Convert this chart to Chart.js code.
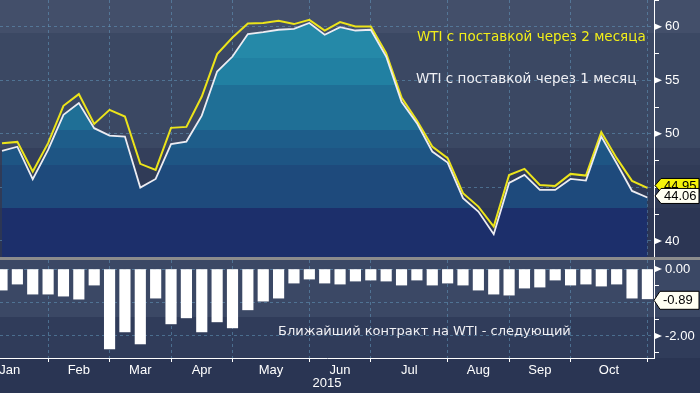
<!DOCTYPE html>
<html lang="ru">
<head>
<meta charset="UTF-8">
<title>WTI: ближайший и следующий контракт</title>
<script src="https://cdn.jsdelivr.net/npm/chart.js"></script>
<style>
  html, body { margin: 0; padding: 0; }
  #wrap {
    position: relative;
    width: 700px;
    height: 393px;
    overflow: hidden;
    background: linear-gradient(to bottom,
      #434f6a 0px, #434f6a 33px,
      #3b4863 33px, #3b4863 148px,
      #343f5b 148px, #343f5b 165px,
      #303b57 165px, #303b57 208px,
      #2c3654 208px, #2c3654 257px,
      #8c8c8c 257px, #8c8c8c 260px,
      #3b4865 260px, #3b4865 317px,
      #303c5a 317px, #303c5a 358px,
      #2a3553 358px, #2a3553 393px);
  }
  canvas { position: absolute; left: 0; }
  #priceChart { top: 0; }
  #spreadChart { top: 260px; }
</style>
</head>
<body>
<div id="wrap">
  <canvas id="priceChart" width="700" height="257"></canvas>
  <canvas id="spreadChart" width="700" height="133"></canvas>
</div>

<script>
  // weekly closes (Fridays), 2015
  const weeks = [
    '2015-01-16', '2015-01-23', '2015-01-30',
    '2015-02-06', '2015-02-13', '2015-02-20', '2015-02-27',
    '2015-03-06', '2015-03-13', '2015-03-20', '2015-03-27',
    '2015-04-03', '2015-04-10', '2015-04-17', '2015-04-24',
    '2015-05-01', '2015-05-08', '2015-05-15', '2015-05-22', '2015-05-29',
    '2015-06-05', '2015-06-12', '2015-06-19', '2015-06-26',
    '2015-07-03', '2015-07-10', '2015-07-17', '2015-07-24', '2015-07-31',
    '2015-08-07', '2015-08-14', '2015-08-21', '2015-08-28',
    '2015-09-04', '2015-09-11', '2015-09-18', '2015-09-25',
    '2015-10-02', '2015-10-09', '2015-10-16', '2015-10-23', '2015-10-30',
    '2015-11-06'
  ];
  const monthNames = ['Jan', 'Feb', 'Mar', 'Apr', 'May', 'Jun', 'Jul', 'Aug', 'Sep', 'Oct', 'Nov', 'Dec'];

  // WTI, front month (white) and second month (yellow), $/bbl
  const wti1m = [
    48.40, 48.80, 45.77, 48.50, 51.78, 52.87, 50.53, 49.84, 49.75, 44.98,
    45.79, 49.04, 49.28, 51.70, 55.82, 57.22, 59.32, 59.50, 59.72, 59.81,
    60.35, 59.25, 59.97, 59.65, 59.72, 57.22, 53.00, 51.00, 48.35, 47.32,
    43.99, 42.74, 40.63, 45.42, 46.17, 44.77, 44.77, 45.79, 45.64, 49.75,
    47.26, 44.67, 44.06
  ];
  const wti2m = [
    49.13, 49.25, 46.48, 49.13, 52.62, 53.71, 50.93, 52.24, 51.62, 47.20,
    46.64, 50.56, 50.65, 53.49, 57.45, 59.00, 60.30, 60.35, 60.56, 60.25,
    60.65, 59.65, 60.44, 60.03, 60.03, 57.54, 53.40, 51.24, 48.81, 47.73,
    44.46, 43.21, 41.34, 46.15, 46.73, 45.23, 45.14, 46.26, 46.10, 50.16,
    47.73, 45.61, 44.95
  ];
  // front month minus next month
  const spread = [
    -0.63, -0.45, -0.75, -0.75, -0.81, -0.90, -0.48, -2.39, -1.88, -2.24,
    -0.87, -1.64, -1.46, -1.88, -1.58, -1.76, -1.22, -0.96, -0.87, -0.42,
    -0.30, -0.42, -0.45, -0.36, -0.33, -0.36, -0.48, -0.33, -0.48, -0.42,
    -0.48, -0.63, -0.75, -0.78, -0.57, -0.54, -0.33, -0.48, -0.45, -0.51,
    -0.45, -0.87, -0.89
  ];

  const label1m = 'WTI с поставкой через 1 месяц';
  const label2m = 'WTI с поставкой через 2 месяца';
  const labelSpread = 'Ближайший контракт на WTI - следующий';

  const FONT = '"Liberation Sans", Arial, sans-serif';
  const TEXT_FONT = '"DejaVu Sans", sans-serif';
  const gridColor = 'rgba(98,152,188,0.55)';
  Chart.defaults.font.family = FONT;
  Chart.defaults.font.size = 13;
  Chart.defaults.color = '#ffffff';

  // index of the first week of every month (first month extrapolated back)
  const monthStarts = [];
  weeks.forEach((d, i) => {
    const m = +d.slice(5, 7) - 1;
    if (i === 0) monthStarts.push({ idx: -Math.floor((+d.slice(8, 10) - 1) / 7), m });
    else if (d.slice(5, 7) !== weeks[i - 1].slice(5, 7)) monthStarts.push({ idx: i, m });
  });
  const monthMids = monthStarts.slice(0, -1).map((s, k) => ({
    value: (s.idx + monthStarts[k + 1].idx) / 2,
    label: monthNames[s.m]
  }));

  const X_MIN = -0.13;
  const X_MAX = weeks.length - 1 + 0.43;
  const isStart = v => monthStarts.some(s => s.idx === v);

  function noPadding(s) {
    s.paddingTop = 0;
    s.paddingBottom = 0;
    s.paddingLeft = 0;
    s.paddingRight = 0;
  }

  function xAxis(withLabels) {
    return {
      type: 'linear',
      min: X_MIN,
      max: X_MAX,
      offset: false,
      afterBuildTicks: s => {
        const t = monthStarts.filter(m => m.idx >= X_MIN && m.idx <= X_MAX).map(m => ({ value: m.idx }));
        if (withLabels) monthMids.forEach(m => t.push({ value: m.value }));
        s.ticks = t.sort((a, b) => a.value - b.value);
      },
      afterFit: s => {
        s.height = withLabels ? 35 : 0;
        noPadding(s);
      },
      grid: {
        offset: false,
        color: c => isStart(c.tick.value) ? gridColor : 'transparent',
        tickColor: c => isStart(c.tick.value) ? '#ffffff' : 'transparent',
        drawTicks: withLabels,
        tickLength: 4
      },
      border: { display: withLabels, color: '#ffffff', dash: [3, 3] },
      ticks: {
        display: withLabels,
        autoSkip: false,
        maxRotation: 0,
        padding: 1,
        callback: v => {
          const m = monthMids.find(l => l.value === v);
          return m ? m.label : '';
        }
      },
      title: { display: withLabels, text: '2015', padding: { top: 0, bottom: 2 } }
    };
  }

  function yAxis(min, max, step, major, lastValues, hideWithin, fmt) {
    const isMajor = v => Math.abs(v / major - Math.round(v / major)) < 1e-6;
    return {
      position: 'right',
      min, max,
      afterBuildTicks: s => {
        const t = [];
        for (let k = Math.ceil(min / step - 1e-9); k * step <= max + 1e-9; k++) {
          t.push({ value: +(k * step).toFixed(4) });
        }
        s.ticks = t;
      },
      afterFit: s => {
        s.width = 46;
        noPadding(s);
      },
      ticks: {
        padding: 6,
        callback: v => {
          if (!isMajor(v)) return '';
          if (lastValues.some(l => Math.abs(v - l) < hideWithin)) return '';
          return fmt(v);
        }
      },
      grid: {
        color: c => isMajor(c.tick.value) ? gridColor : 'transparent',
        tickColor: '#ffffff',
        tickLength: 5
      },
      border: { color: '#ffffff', dash: [3, 3] }
    };
  }

  // little arrow heads on labelled ticks of the right axis
  function drawArrowTicks(chart) {
    const s = chart.scales.y;
    const ctx = chart.ctx;
    ctx.save();
    ctx.fillStyle = '#ffffff';
    s.ticks.forEach(t => {
      if (!t.label) return;
      const y = s.getPixelForValue(t.value);
      ctx.beginPath();
      ctx.moveTo(s.left, y - 3.5);
      ctx.lineTo(s.left + 8, y);
      ctx.lineTo(s.left, y + 3.5);
      ctx.closePath();
      ctx.fill();
    });
    ctx.restore();
  }

  function valueBox(ctx, x, y, h, text, fill) {
    ctx.save();
    ctx.beginPath();
    ctx.moveTo(x, y);
    ctx.lineTo(x + 6, y - h / 2);
    ctx.lineTo(699, y - h / 2);
    ctx.lineTo(699, y + h / 2);
    ctx.lineTo(x + 6, y + h / 2);
    ctx.closePath();
    ctx.fillStyle = fill;
    ctx.fill();
    ctx.strokeStyle = '#000000';
    ctx.lineWidth = 1;
    ctx.stroke();
    ctx.fillStyle = '#000000';
    ctx.font = '13px ' + FONT;
    ctx.textAlign = 'left';
    ctx.textBaseline = 'middle';
    ctx.fillText(text, x + 9, y + 0.5);
    ctx.restore();
  }

  // Bloomberg style banded area fill
  function areaFill(c) {
    const { ctx, chartArea } = c.chart;
    if (!chartArea) return null;
    const h = chartArea.bottom - chartArea.top;
    const bands = [
      [0, '#2589a8'], [58, '#2180a2'], [85, '#1f6f96'], [130, '#1e5d8a'],
      [148, '#1e5584'], [165, '#1e4a7c'], [208, '#1c2f6b']
    ];
    const g = ctx.createLinearGradient(0, chartArea.top, 0, chartArea.bottom);
    bands.forEach(([y, col], k) => {
      const y2 = k + 1 < bands.length ? bands[k + 1][0] : h;
      g.addColorStop(Math.min(y / h, 1), col);
      g.addColorStop(Math.min(y2 / h, 1), col);
    });
    return g;
  }

  const pricePlugin = {
    id: 'priceExtras',
    afterDraw(chart) {
      const ctx = chart.ctx;
      const y = chart.scales.y;
      drawArrowTicks(chart);

      ctx.save();
      ctx.font = '13.5px ' + TEXT_FONT;
      ctx.textAlign = 'left';
      ctx.textBaseline = 'middle';
      ctx.fillStyle = '#f2ee1a';
      ctx.fillText(label2m, 417, 37);
      ctx.fillStyle = '#f0f0f4';
      ctx.fillText(label1m, 416, 79);
      ctx.restore();

      const last1 = wti1m[wti1m.length - 1];
      const last2 = wti2m[wti2m.length - 1];
      const yW = y.getPixelForValue(last1) - 1.5;
      const yY = Math.min(y.getPixelForValue(last2), yW - 10.5);
      valueBox(ctx, y.left + 1, yY, 14, last2.toFixed(2), '#f5f20a');
      valueBox(ctx, y.left + 1, yW, 15, last1.toFixed(2), '#fffff2');
    }
  };

  const spreadPlugin = {
    id: 'spreadExtras',
    afterDraw(chart) {
      const ctx = chart.ctx;
      const y = chart.scales.y;
      drawArrowTicks(chart);

      ctx.save();
      ctx.font = '13px ' + TEXT_FONT;
      ctx.textAlign = 'left';
      ctx.textBaseline = 'middle';
      ctx.fillStyle = '#f0f0f4';
      ctx.fillText(labelSpread, 278, 72);
      ctx.restore();

      const last = spread[spread.length - 1];
      valueBox(ctx, y.left, y.getPixelForValue(last) + 1.5, 18, last.toFixed(2), '#fffff2');
    }
  };

  new Chart(document.getElementById('priceChart'), {
    type: 'line',
    data: {
      datasets: [
        {
          label: label1m,
          data: wti1m.map((v, i) => ({ x: i, y: v })),
          borderColor: '#ececf2',
          borderWidth: 1.8,
          pointRadius: 0,
          tension: 0,
          fill: 'start',
          backgroundColor: areaFill
        },
        {
          label: label2m,
          data: wti2m.map((v, i) => ({ x: i, y: v })),
          borderColor: '#ece41a',
          borderWidth: 2,
          pointRadius: 0,
          tension: 0,
          fill: false
        }
      ]
    },
    options: {
      responsive: false,
      animation: false,
      devicePixelRatio: 1,
      layout: { padding: 0, autoPadding: false },
      plugins: { legend: { display: false }, tooltip: { enabled: false } },
      scales: {
        x: xAxis(false),
        y: yAxis(38.5, 62.5, 2.5, 5, [wti1m[wti1m.length - 1], wti2m[wti2m.length - 1]], 1.2, v => String(v))
      }
    },
    plugins: [pricePlugin]
  });

  new Chart(document.getElementById('spreadChart'), {
    type: 'bar',
    data: {
      datasets: [{
        label: labelSpread,
        data: spread.map((v, i) => ({ x: i, y: v })),
        backgroundColor: '#ffffff',
        borderWidth: 0,
        barThickness: 10.5
      }]
    },
    options: {
      responsive: false,
      animation: false,
      devicePixelRatio: 1,
      layout: { padding: 0, autoPadding: false },
      plugins: { legend: { display: false }, tooltip: { enabled: false } },
      scales: {
        x: xAxis(true),
        y: yAxis(-2.66, 0.27, 0.5, 1, [spread[spread.length - 1]], 0.4, v => v.toFixed(2))
      }
    },
    plugins: [spreadPlugin]
  });
</script>
</body>
</html>
